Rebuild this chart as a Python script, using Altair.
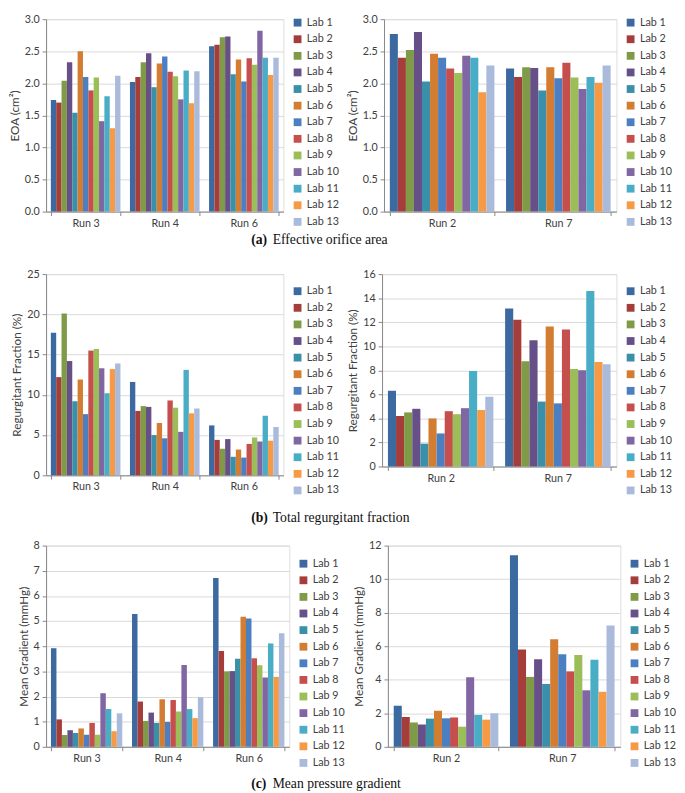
import altair as alt
import pandas as pd

labs = [f"Lab {i}" for i in range(1, 14)]
lab_colors = ["#3D69A1", "#A53D3B", "#7F9B47", "#674F87", "#3A90A8", "#D27D31",
              "#4B7FC1", "#C54F4C", "#9BBE59", "#8066A2", "#4AADC6", "#F69A46", "#A9BADB"]

runs_left = ["Run 3", "Run 4", "Run 6"]
runs_right = ["Run 2", "Run 7"]

# (a) Effective orifice area (cm2)
eoa_run3 = [1.74, 1.70, 2.04, 2.33, 1.54, 2.50, 2.10, 1.89, 2.09, 1.41, 1.80, 1.30, 2.12]
eoa_run4 = [2.02, 2.10, 2.33, 2.47, 1.94, 2.31, 2.42, 2.18, 2.11, 1.75, 2.20, 1.69, 2.19]
eoa_run6 = [2.58, 2.60, 2.72, 2.73, 2.14, 2.37, 2.03, 2.39, 2.29, 2.82, 2.40, 2.13, 2.40]
eoa_run2 = [2.77, 2.40, 2.52, 2.80, 2.03, 2.46, 2.40, 2.23, 2.16, 2.43, 2.40, 1.86, 2.28]
eoa_run7 = [2.23, 2.10, 2.25, 2.24, 1.89, 2.25, 2.08, 2.32, 2.09, 1.91, 2.10, 2.01, 2.28]

# (b) Total regurgitant fraction (%)
rf_run3 = [17.7, 12.2, 20.1, 14.2, 9.2, 11.9, 7.6, 15.5, 15.7, 13.3, 10.2, 13.2, 13.9]
rf_run4 = [11.6, 8.0, 8.6, 8.5, 5.0, 6.5, 4.6, 9.3, 8.4, 5.4, 13.1, 7.7, 8.3]
rf_run6 = [6.2, 4.4, 3.3, 4.5, 2.3, 3.2, 2.2, 3.9, 4.7, 4.2, 7.4, 4.3, 6.0]
rf_run2 = [6.3, 4.2, 4.5, 4.8, 1.9, 4.0, 2.75, 4.6, 4.35, 4.85, 7.95, 4.7, 5.8]
rf_run7 = [13.15, 12.2, 8.75, 10.5, 5.4, 11.65, 5.25, 11.4, 8.1, 8.0, 14.6, 8.7, 8.5]

# (c) Mean pressure gradient (mmHg)
mg_run3 = [3.92, 1.09, 0.47, 0.66, 0.55, 0.73, 0.48, 0.95, 0.48, 2.13, 1.50, 0.62, 1.33]
mg_run4 = [5.28, 1.80, 1.03, 1.36, 0.95, 1.89, 0.99, 1.86, 1.40, 3.25, 1.50, 1.14, 1.97]
mg_run6 = [6.71, 3.81, 3.00, 3.01, 3.50, 5.17, 5.10, 3.52, 3.24, 2.76, 4.11, 2.78, 4.52]
mg_run2 = [2.45, 1.78, 1.45, 1.33, 1.68, 2.15, 1.70, 1.75, 1.20, 4.15, 1.90, 1.62, 2.00]
mg_run7 = [11.42, 5.80, 4.17, 5.22, 3.75, 6.42, 5.52, 4.50, 5.47, 3.37, 5.20, 3.28, 7.23]

caption_letters = ["(a)", "(b)", "(c)"]
caption_texts = ["Effective orifice area", "Total regurgitant fraction", "Mean pressure gradient"]

FONT = "Lato"
TXT = "#404040"
GRID = "#D9D9D9"
AXC = "#868686"


def panel(runs, series, ytitle, ymax, ystep, fmt, width, height, pad_in, leg_dx, leg_dy):
    rows = []
    for run, vals in zip(runs, series):
        for lab, v in zip(labs, vals):
            rows.append({"run": run, "lab": lab, "value": v})
    df = pd.DataFrame(rows)
    ticks = [round(i * ystep, 4) for i in range(int(round(ymax / ystep)) + 1)]
    return alt.Chart(df).mark_bar().encode(
        x=alt.X("run:N", sort=runs, title=None,
                scale=alt.Scale(paddingInner=pad_in, paddingOuter=pad_in / 2),
                axis=alt.Axis(labelAngle=0, tickBand="extent", domainColor=AXC, tickColor=AXC,
                              tickSize=4, labelFont=FONT, labelFontSize=11, labelColor=TXT,
                              labelPadding=2)),
        xOffset=alt.XOffset("lab:N", sort=labs, scale=alt.Scale(paddingInner=0, paddingOuter=0)),
        y=alt.Y("value:Q", scale=alt.Scale(domain=[0, ymax], nice=False, zero=True),
                axis=alt.Axis(values=ticks, format=fmt, title=ytitle, grid=True, gridColor=GRID,
                              domainColor=AXC, tickColor=AXC, tickSize=4, labelFont=FONT,
                              labelFontSize=11, labelColor=TXT, titleFont=FONT, titleFontSize=12,
                              titleFontWeight="normal", titleColor=TXT, titlePadding=3,
                              labelPadding=3)),
        color=alt.Color("lab:N", sort=labs, scale=alt.Scale(domain=labs, range=lab_colors),
                        legend=alt.Legend(title=None, orient="none", legendX=width + leg_dx,
                                          legendY=leg_dy, symbolType="square", symbolSize=64,
                                          symbolStrokeWidth=0, labelFont=FONT, labelFontSize=11,
                                          labelColor=TXT, rowPadding=5, labelOffset=4, padding=0)),
    ).properties(width=width, height=height)


def caption(i, height, ypos):
    d = pd.DataFrame({"a": [caption_letters[i]], "b": [caption_texts[i]]})
    base = alt.Chart(d)
    t1 = base.mark_text(font="Liberation Serif", fontSize=14, fontWeight="bold", align="left",
                        baseline="middle", color="#111").encode(
        text="a:N", x=alt.value(210), y=alt.value(ypos))
    t2 = base.mark_text(font="Liberation Serif", fontSize=14, fontWeight="normal", align="left",
                        baseline="middle", color="#111").encode(
        text="b:N", x=alt.value(232), y=alt.value(ypos))
    return alt.layer(t1, t2).properties(width=400, height=height,
                                        view=alt.ViewBackground(stroke="transparent"))


def row(a, b):
    return alt.hconcat(a, b, spacing=6).resolve_scale(
        x="independent", y="independent", color="independent", xOffset="independent"
    ).resolve_legend(color="independent")


a1 = panel(runs_left, [eoa_run3, eoa_run4, eoa_run6], "EOA (cm²)", 3.0, 0.5, ".1f", 243, 197, 0.12, 9, -2)
a2 = panel(runs_right, [eoa_run2, eoa_run7], "EOA (cm²)", 3.0, 0.5, ".1f", 238, 197, 0.10, 9, -2)
b1 = panel(runs_left, [rf_run3, rf_run4, rf_run6], "Regurgitant Fraction (%)", 25, 5, "d", 243, 206, 0.12, 9, 12)
b2 = panel(runs_right, [rf_run2, rf_run7], "Regurgitant Fraction (%)", 16, 2, "d", 240, 197, 0.10, 9, 12)
c1 = panel(runs_left, [mg_run3, mg_run4, mg_run6], "Mean Gradient (mmHg)", 8, 1, "d", 249, 206, 0.12, 9, 13)
c2 = panel(runs_right, [mg_run2, mg_run7], "Mean Gradient (mmHg)", 12, 2, "d", 238, 206, 0.10, 9, 13)

chart = alt.vconcat(
    row(a1, a2), caption(0, 37, 10), row(b1, b2), caption(1, 41, 21), row(c1, c2), caption(2, 20, 14),
    spacing=0
).resolve_scale(
    x="independent", y="independent", color="independent", xOffset="independent"
).resolve_legend(color="independent").properties(
    padding={"left": 0, "top": -5, "right": 0, "bottom": 0}
).configure_view(stroke=AXC, strokeWidth=1).configure(background="white")

chart.save("out.html", embed_options={"renderer": "svg", "actions": False})
